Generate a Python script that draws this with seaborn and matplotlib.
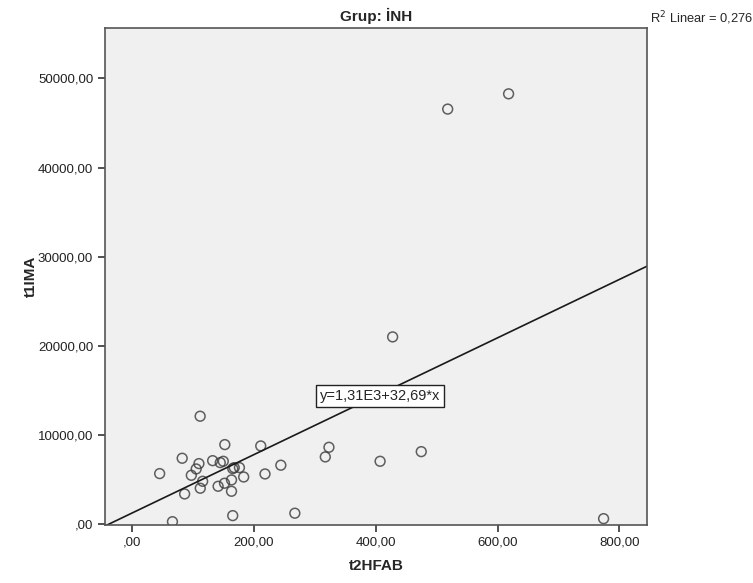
import pandas as pd
import matplotlib.pyplot as plt
import seaborn as sns
from matplotlib.ticker import FuncFormatter

# values
t2HFAB = [111.5, 82, 45, 109.5, 105, 97, 115.6, 111.7, 86, 66,
          132, 144.5, 149.5, 152, 165, 167.5, 176, 183, 163, 151.5,
          141, 163, 165, 211, 218, 244, 267, 317, 323, 407,
          474.6, 774, 518, 618, 427.6]
t1IMA = [12130, 7420, 5700, 6820, 6220, 5510, 4840, 4060, 3420, 310,
         7150, 6930, 7080, 8950, 6260, 6370, 6370, 5320, 4990, 4620,
         4280, 3720, 990, 8800, 5660, 6640, 1260, 7570, 8650, 7080,
         8160, 650, 46550, 48260, 21020]
x_ticks = [0, 200, 400, 600, 800]
y_ticks = [0, 10000, 20000, 30000, 40000, 50000]

df = pd.DataFrame({"t2HFAB": t2HFAB, "t1IMA": t1IMA})

sns.set_style("ticks")
plt.rcParams['font.family'] = ['Liberation Sans', 'DejaVu Sans']


def spss_fmt(v, pos):
    s = f"{v:.2f}".replace('.', ',')
    if s.startswith("0,"):
        s = s[1:]
    return s


fig = plt.figure(figsize=(7.53, 5.83), dpi=100)
ax = fig.add_axes([0.1394, 0.0995, 0.7196, 0.8525])
ax.set_facecolor('#f0f0f0')
ax.set_xlim(-44.8, 845)
ax.set_ylim(-60, 55640)

sns.regplot(data=df, x="t2HFAB", y="t1IMA", ax=ax, ci=None, truncate=False,
            scatter_kws={'facecolors': 'none', 'edgecolors': '#3a3a3a',
                         's': 50, 'linewidths': 1.1},
            line_kws={'color': '#1a1a1a', 'linewidth': 1.2})

ax.set_xticks(x_ticks)
ax.set_yticks(y_ticks)
ax.xaxis.set_major_formatter(FuncFormatter(spss_fmt))
ax.yaxis.set_major_formatter(FuncFormatter(spss_fmt))
ax.tick_params(axis='both', labelsize=9.5, length=5, width=1.2, color='#333333',
               labelcolor='#222222')
for sp in ax.spines.values():
    sp.set_visible(True)
    sp.set_color('#555555')
    sp.set_linewidth(1.2)

ax.set_xlabel('t2HFAB', fontsize=11, fontweight='bold', labelpad=7)
ax.set_ylabel('t1IMA', fontsize=11, fontweight='bold', labelpad=0)
ax.set_title('Grup: İNH', fontsize=11, fontweight='bold', pad=5)

ax.text(406.7, 14400, 'y=1,31E3+32,69*x', fontsize=10.5, ha='center', va='center',
        bbox=dict(boxstyle='square,pad=0.25', facecolor='white',
                  edgecolor='#222222', linewidth=1))
fig.text(650 / 753, 1 - 18 / 583, 'R$^2$ Linear = 0,276', fontsize=9.3,
         ha='left', va='center')

fig.savefig("out.png", dpi=100)
